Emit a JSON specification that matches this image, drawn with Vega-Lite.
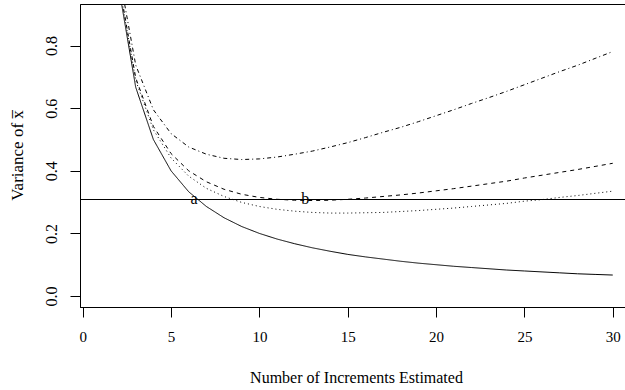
{
  "$schema": "https://vega.github.io/schema/vega-lite/v6.json",
  "width": 546,
  "height": 303,
  "autosize": {"type": "none"},
  "padding": {"left": 80, "top": 4, "right": 0, "bottom": 83},
  "background": "white",
  "config": {
    "view": {"stroke": "black", "strokeWidth": 1},
    "font": "Liberation Serif",
    "text": {"font": "Liberation Serif"},
    "axis": {
      "domainColor": "black",
      "tickColor": "black",
      "labelColor": "black",
      "titleColor": "black",
      "labelFont": "Liberation Serif",
      "titleFont": "Liberation Serif",
      "titleFontWeight": "normal",
      "tickSize": 10,
      "grid": false
    }
  },
  "data": {
    "values": [
      {"n": 2, "v": 1.0, "s": "solid"}, {"n": 3, "v": 0.667, "s": "solid"}, {"n": 4, "v": 0.5, "s": "solid"}, {"n": 5, "v": 0.4, "s": "solid"}, {"n": 6, "v": 0.333, "s": "solid"}, {"n": 7, "v": 0.286, "s": "solid"}, {"n": 8, "v": 0.25, "s": "solid"}, {"n": 9, "v": 0.222, "s": "solid"}, {"n": 10, "v": 0.2, "s": "solid"}, {"n": 11, "v": 0.182, "s": "solid"}, {"n": 12, "v": 0.167, "s": "solid"}, {"n": 13, "v": 0.154, "s": "solid"}, {"n": 14, "v": 0.143, "s": "solid"}, {"n": 15, "v": 0.133, "s": "solid"}, {"n": 16, "v": 0.125, "s": "solid"}, {"n": 17, "v": 0.118, "s": "solid"}, {"n": 18, "v": 0.111, "s": "solid"}, {"n": 19, "v": 0.105, "s": "solid"}, {"n": 20, "v": 0.1, "s": "solid"}, {"n": 21, "v": 0.095, "s": "solid"}, {"n": 22, "v": 0.091, "s": "solid"}, {"n": 23, "v": 0.087, "s": "solid"}, {"n": 24, "v": 0.083, "s": "solid"}, {"n": 25, "v": 0.08, "s": "solid"}, {"n": 26, "v": 0.077, "s": "solid"}, {"n": 27, "v": 0.074, "s": "solid"}, {"n": 28, "v": 0.071, "s": "solid"}, {"n": 29, "v": 0.069, "s": "solid"}, {"n": 30, "v": 0.067, "s": "solid"},
      {"n": 2, "v": 1.013, "s": "dotted"}, {"n": 3, "v": 0.689, "s": "dotted"}, {"n": 4, "v": 0.531, "s": "dotted"}, {"n": 5, "v": 0.441, "s": "dotted"}, {"n": 6, "v": 0.383, "s": "dotted"}, {"n": 7, "v": 0.344, "s": "dotted"}, {"n": 8, "v": 0.318, "s": "dotted"}, {"n": 9, "v": 0.299, "s": "dotted"}, {"n": 10, "v": 0.286, "s": "dotted"}, {"n": 11, "v": 0.277, "s": "dotted"}, {"n": 12, "v": 0.271, "s": "dotted"}, {"n": 13, "v": 0.267, "s": "dotted"}, {"n": 14, "v": 0.265, "s": "dotted"}, {"n": 15, "v": 0.265, "s": "dotted"}, {"n": 16, "v": 0.266, "s": "dotted"}, {"n": 17, "v": 0.267, "s": "dotted"}, {"n": 18, "v": 0.27, "s": "dotted"}, {"n": 19, "v": 0.273, "s": "dotted"}, {"n": 20, "v": 0.277, "s": "dotted"}, {"n": 21, "v": 0.281, "s": "dotted"}, {"n": 22, "v": 0.286, "s": "dotted"}, {"n": 23, "v": 0.291, "s": "dotted"}, {"n": 24, "v": 0.296, "s": "dotted"}, {"n": 25, "v": 0.303, "s": "dotted"}, {"n": 26, "v": 0.308, "s": "dotted"}, {"n": 27, "v": 0.315, "s": "dotted"}, {"n": 28, "v": 0.321, "s": "dotted"}, {"n": 29, "v": 0.328, "s": "dotted"}, {"n": 30, "v": 0.335, "s": "dotted"},
      {"n": 2, "v": 1.018, "s": "dashed"}, {"n": 3, "v": 0.697, "s": "dashed"}, {"n": 4, "v": 0.542, "s": "dashed"}, {"n": 5, "v": 0.455, "s": "dashed"}, {"n": 6, "v": 0.4, "s": "dashed"}, {"n": 7, "v": 0.365, "s": "dashed"}, {"n": 8, "v": 0.341, "s": "dashed"}, {"n": 9, "v": 0.325, "s": "dashed"}, {"n": 10, "v": 0.315, "s": "dashed"}, {"n": 11, "v": 0.309, "s": "dashed"}, {"n": 12, "v": 0.306, "s": "dashed"}, {"n": 13, "v": 0.305, "s": "dashed"}, {"n": 14, "v": 0.306, "s": "dashed"}, {"n": 15, "v": 0.309, "s": "dashed"}, {"n": 16, "v": 0.313, "s": "dashed"}, {"n": 17, "v": 0.318, "s": "dashed"}, {"n": 18, "v": 0.323, "s": "dashed"}, {"n": 19, "v": 0.329, "s": "dashed"}, {"n": 20, "v": 0.336, "s": "dashed"}, {"n": 21, "v": 0.343, "s": "dashed"}, {"n": 22, "v": 0.351, "s": "dashed"}, {"n": 23, "v": 0.359, "s": "dashed"}, {"n": 24, "v": 0.367, "s": "dashed"}, {"n": 25, "v": 0.377, "s": "dashed"}, {"n": 26, "v": 0.386, "s": "dashed"}, {"n": 27, "v": 0.395, "s": "dashed"}, {"n": 28, "v": 0.404, "s": "dashed"}, {"n": 29, "v": 0.414, "s": "dashed"}, {"n": 30, "v": 0.424, "s": "dashed"},
      {"n": 2, "v": 1.048, "s": "dotdash"}, {"n": 3, "v": 0.738, "s": "dotdash"}, {"n": 4, "v": 0.595, "s": "dotdash"}, {"n": 5, "v": 0.519, "s": "dotdash"}, {"n": 6, "v": 0.476, "s": "dotdash"}, {"n": 7, "v": 0.453, "s": "dotdash"}, {"n": 8, "v": 0.44, "s": "dotdash"}, {"n": 9, "v": 0.436, "s": "dotdash"}, {"n": 10, "v": 0.438, "s": "dotdash"}, {"n": 11, "v": 0.444, "s": "dotdash"}, {"n": 12, "v": 0.453, "s": "dotdash"}, {"n": 13, "v": 0.463, "s": "dotdash"}, {"n": 14, "v": 0.476, "s": "dotdash"}, {"n": 15, "v": 0.49, "s": "dotdash"}, {"n": 16, "v": 0.506, "s": "dotdash"}, {"n": 17, "v": 0.523, "s": "dotdash"}, {"n": 18, "v": 0.539, "s": "dotdash"}, {"n": 19, "v": 0.557, "s": "dotdash"}, {"n": 20, "v": 0.576, "s": "dotdash"}, {"n": 21, "v": 0.595, "s": "dotdash"}, {"n": 22, "v": 0.615, "s": "dotdash"}, {"n": 23, "v": 0.634, "s": "dotdash"}, {"n": 24, "v": 0.654, "s": "dotdash"}, {"n": 25, "v": 0.675, "s": "dotdash"}, {"n": 26, "v": 0.696, "s": "dotdash"}, {"n": 27, "v": 0.717, "s": "dotdash"}, {"n": 28, "v": 0.737, "s": "dotdash"}, {"n": 29, "v": 0.759, "s": "dotdash"}, {"n": 30, "v": 0.781, "s": "dotdash"}
    ]
  },
  "layer": [
    {
      "mark": {"type": "line", "clip": true, "color": "black", "strokeWidth": 1},
      "encoding": {
        "x": {
          "field": "n", "type": "quantitative",
          "scale": {"domain": [-0.153, 30.75], "nice": false, "zero": false},
          "axis": {
            "values": [0, 5, 10, 15, 20, 25, 30],
            "title": "Number of Increments Estimated",
            "labelFontSize": 15,
            "labelPadding": 12,
            "titleFontSize": 16,
            "titleBaseline": "alphabetic",
            "titleX": 276,
            "titleY": 75
          }
        },
        "y": {
          "field": "v", "type": "quantitative",
          "scale": {"domain": [-0.0351, 0.9329], "nice": false, "zero": false},
          "axis": {
            "values": [0, 0.2, 0.4, 0.6, 0.8],
            "format": ".1f",
            "title": "Variance of x\u0305",
            "labelFontSize": 16,
            "labelAngle": -90,
            "labelAlign": "center",
            "labelBaseline": "alphabetic",
            "labelPadding": 14,
            "titleFontSize": 17,
            "titleBaseline": "alphabetic",
            "titleAngle": -90,
            "titleX": -58,
            "titleY": 151
          }
        },
        "detail": {"field": "s"},
        "strokeDash": {
          "field": "s", "type": "nominal",
          "scale": {"domain": ["solid", "dotted", "dashed", "dotdash"], "range": [[1, 0], [1, 3], [4, 4], [1, 3, 4, 3]]},
          "legend": null
        }
      }
    },
    {
      "mark": {"type": "rule", "color": "black", "strokeWidth": 1},
      "encoding": {"y": {"datum": 0.3083, "type": "quantitative"}}
    },
    {
      "data": {"values": [{"n": 6.3, "v": 0.31, "t": "a"}, {"n": 12.6, "v": 0.31, "t": "b"}]},
      "mark": {"type": "text", "font": "Liberation Serif", "fontSize": 16, "align": "center", "baseline": "middle", "color": "black"},
      "encoding": {
        "x": {"field": "n", "type": "quantitative"},
        "y": {"field": "v", "type": "quantitative"},
        "text": {"field": "t"}
      }
    }
  ]
}
